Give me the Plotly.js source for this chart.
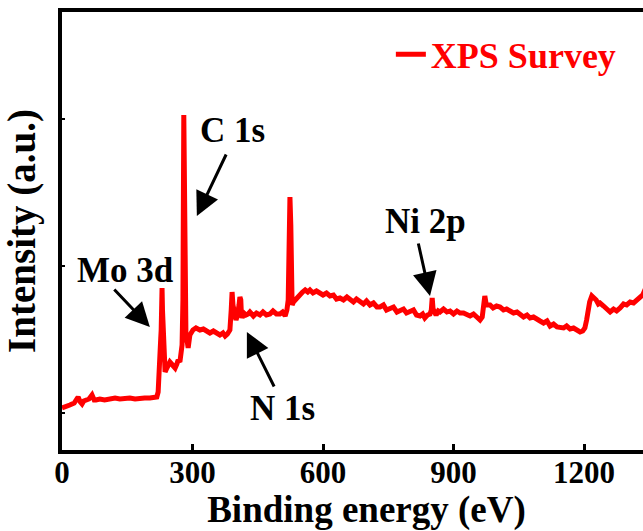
<!DOCTYPE html>
<html>
<head>
<meta charset="utf-8">
<script src="https://cdn.plot.ly/plotly-3.0.1.min.js"></script>
<style>
html,body{margin:0;padding:0;overflow:hidden;background:#fff;}
#chart{width:681px;height:531px;}
</style>
</head>
<body>
<div id="chart"></div>
<script>
// Binding energy (eV)
const energy = [
  0,9,18,28,37,42,46,50,55,62,
  69,74,78,87,98,110,122,133,145,156,
  168,179,190,202,210,218,221,223,225,227,
  228,229,230,231,232,234,237,241,245,248,
  254,260,264,267,271,274,276,278,279,280,
  281,283,285,288,290,294,297,301,308,317,
  325,333,340,348,356,363,370,375,380,386,
  389,391,393,395,398,400,403,405,407,409,
  411,412,414,418,423,428,432,440,447,455,
  462,470,478,485,493,501,507,513,517,520,
  522,524,526,527,529,532,536,541,547,553,
  559,565,570,577,585,593,600,608,616,624,
  631,639,647,655,662,670,677,685,693,700,
  708,716,724,731,739,746,754,762,770,777,
  785,792,800,808,815,823,829,834,840,846,
  849,851,853,855,860,865,869,877,885,892,
  900,908,915,923,930,938,946,954,961,966,
  968,970,972,975,977,984,991,999,1007,1015,
  1022,1030,1038,1046,1053,1061,1069,1076,1084,1092,
  1099,1107,1115,1122,1130,1138,1145,1153,1160,1168,
  1176,1184,1191,1197,1202,1206,1209,1213,1218,1223,
  1228,1233,1237,1245,1253,1260,1268,1275,1283,1291,
  1298,1306,1314,1321,1329,1335,1340,1345,1350
];
// Intensity (a.u.)
const intensity = [
  42,43,45,47,53,48,46,49,50,51,
  55,50,50,51,50,51,52,51,52,52,
  51,52,52,52,53,53,58,90,103,112,
  120,150,162,140,130,95,78,82,86,88,
  85,82,86,90,88,95,105,150,260,335,
  290,200,110,108,102,115,118,120,122,120,
  121,118,117,119,116,115,117,114,116,120,
  140,158,145,140,135,130,134,138,145,153,
  150,140,132,137,135,136,138,134,137,135,
  138,135,136,139,136,136,138,134,140,150,
  200,253,225,190,145,148,150,153,155,158,
  160,158,160,157,159,157,155,157,154,155,
  151,152,150,153,150,148,151,148,146,149,
  145,147,143,143,145,140,141,143,138,139,
  141,137,138,140,135,134,136,132,135,136,
  140,152,141,138,135,139,138,141,138,139,
  136,139,137,137,135,134,136,132,130,133,
  140,148,154,146,145,145,142,144,143,140,
  141,139,137,138,136,133,135,132,133,130,
  129,127,129,124,126,123,123,122,124,121,
  122,120,118,119,122,130,138,148,154,152,
  150,146,147,144,140,138,141,139,142,146,
  145,148,147,150,152,155,160,158,156
];
const xTicks = [0,300,600,900,1200];
const yTicks = [37,184,331];
const seriesName = 'XPS Survey';
const peakLabels = ['Mo 3d','C 1s','N 1s','Ni 2p'];

const fam = 'Liberation Serif';
const fnt = (size, color) => ({family:fam, size:size, color: color || '#000'});
const bold = t => '<b>' + t + '</b>';

const trace = {
  x: energy, y: intensity, type:'scatter', mode:'lines', name: bold(seriesName),
  line:{color:'#ff0000', width:5}
};

const arrow = (x, y, ax, ay) => ({x:x, y:y, ax:ax, ay:ay, axref:'pixel', ayref:'pixel',
  text:'', showarrow:true, arrowhead:2, arrowsize:1.6, arrowwidth:3, arrowcolor:'#000'});
const label = (x, y, t) => ({x:x, y:y, text:bold(t), showarrow:false, font:fnt(35)});

const layout = {
  width:681, height:531,
  margin:{l:62, r:10, t:12, b:81},
  font:fnt(30),
  paper_bgcolor:'#fff', plot_bgcolor:'#fff',
  showlegend:true,
  legend:{x:0.54, y:0.972, xanchor:'left', yanchor:'top', font:fnt(36,'#ff0000'), bgcolor:'rgba(0,0,0,0)'},
  xaxis:{
    range:[0,1400], tickvals:xTicks, ticktext:xTicks.map(v => bold(String(v))),
    ticks:'inside', ticklen:6, tickwidth:3, tickcolor:'#000',
    showline:true, linewidth:4, linecolor:'#000', mirror:true,
    showgrid:false, zeroline:false, tickfont:fnt(31), ticklabelstandoff:-8,
    title:{text:bold('Binding energy (eV)'), font:fnt(37), standoff:3}
  },
  yaxis:{
    range:[0,438], tickvals:yTicks, showticklabels:false,
    ticks:'inside', ticklen:3, tickwidth:2, tickcolor:'#000',
    showline:true, linewidth:4, linecolor:'#000', mirror:true,
    showgrid:false, zeroline:false,
    title:{text:bold('Intensity (a.u.)'), font:fnt(39), standoff:12}
  },
  annotations:[
    label(145,180,peakLabels[0]), arrow(202,123,-37,-39),
    label(393,320,peakLabels[1]), arrow(310,234,30,-63),
    label(508,42,peakLabels[2]),  arrow(425,118,28,56),
    label(835,229,peakLabels[3]), arrow(846,154,-12,-54)
  ]
};

Plotly.newPlot('chart', [trace], layout, {displayModeBar:false, staticPlot:true});
</script>
</body>
</html>
